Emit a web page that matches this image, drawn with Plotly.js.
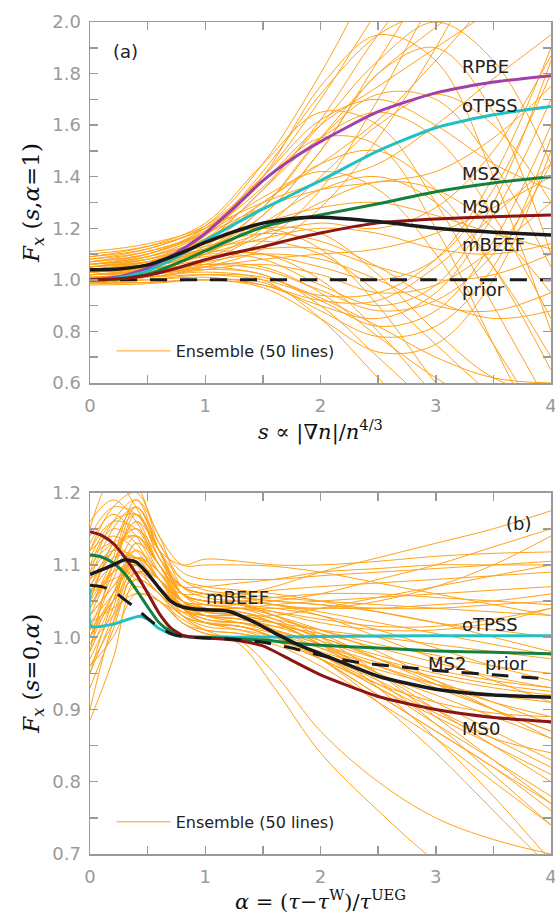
<!DOCTYPE html>
<html>
<head>
<meta charset="utf-8">
<script src="https://cdn.plot.ly/plotly-3.0.1.min.js"></script>
<style>html,body{margin:0;padding:0;background:#fff;}#chart{width:555px;height:914px;}</style>
</head>
<body>
<div id="chart"></div>
<script>
// ---------------- Panel (a): F_x(s, alpha=1) ----------------
const sGrid = [0, 0.5, 1, 1.5, 2, 2.5, 3, 3.5, 4];
const sFine = [0, 0.25, 0.5, 0.75, 1, 1.25, 1.5, 1.75, 2, 2.5, 3, 3.5, 4];
const rpbeA  = [1.0, 1.012, 1.045, 1.105, 1.180, 1.280, 1.385, 1.468, 1.536, 1.652, 1.725, 1.767, 1.792];
const otpssA = [1.0, 1.008, 1.035, 1.088, 1.152, 1.215, 1.275, 1.330, 1.385, 1.500, 1.590, 1.640, 1.672];
const ms2A   = [1.0, 1.004, 1.022, 1.063, 1.112, 1.162, 1.205, 1.232, 1.252, 1.295, 1.342, 1.376, 1.400];
const ms0A   = [1.0, 1.004, 1.018, 1.045, 1.078, 1.105, 1.129, 1.157, 1.182, 1.221, 1.236, 1.245, 1.252];
const mbeefA = [1.039, 1.042, 1.058, 1.097, 1.145, 1.187, 1.220, 1.238, 1.243, 1.226, 1.200, 1.185, 1.174];
const priorA = [1.0, 1.0, 1.0, 1.0, 1.0, 1.0, 1.0, 1.0, 1.0, 1.0, 1.0, 1.0, 1.0];

const ensA = [
  [1.02,1.04,1.10,1.25,1.50,1.85,2.20,2.5,2.7],
  [1.06,1.10,1.20,1.40,1.70,2.05,2.4,2.6,2.7],
  [1.00,1.02,1.06,1.15,1.35,1.70,2.10,2.4,2.5],
  [1.04,1.07,1.16,1.35,1.62,1.95,2.2,2.3,2.3],
  [1.08,1.12,1.21,1.45,1.80,2.2,2.5,2.5,2.4],
  [1.03,1.05,1.12,1.28,1.55,1.80,1.98,2.15,2.3],
  [0.99,1.01,1.05,1.12,1.28,1.55,1.90,2.30,2.6],
  [1.05,1.09,1.18,1.38,1.60,1.75,1.90,2.05,2.2],
  [1.02,1.05,1.13,1.30,1.45,1.62,1.85,2.1,2.3],
  [1.07,1.11,1.19,1.42,1.72,1.95,2.05,2.1,2.1],
  [1.04,1.07,1.15,1.35,1.55,1.65,1.55,1.25,0.85],
  [1.09,1.13,1.22,1.45,1.65,1.60,1.30,0.90,0.50],
  [1.01,1.03,1.08,1.20,1.40,1.60,1.72,1.60,1.30],
  [1.06,1.09,1.16,1.30,1.45,1.50,1.35,1.05,0.65],
  [1.03,1.06,1.12,1.25,1.50,1.80,1.90,1.65,1.10],
  [1.10,1.13,1.20,1.38,1.55,1.52,1.20,0.75,0.30],
  [1.00,1.02,1.07,1.18,1.30,1.38,1.35,1.20,0.95],
  [1.05,1.08,1.17,1.40,1.75,1.95,1.85,1.40,0.80],
  [1.02,1.04,1.10,1.22,1.35,1.40,1.30,1.05,0.70],
  [1.07,1.10,1.18,1.32,1.42,1.35,1.10,0.75,0.40],
  [1.03,1.05,1.11,1.28,1.55,1.72,1.70,1.45,1.05],
  [1.08,1.11,1.19,1.36,1.60,1.85,2.0,1.85,1.45],
  [1.00,1.00,1.01,0.98,0.90,0.85,0.95,1.25,1.70],
  [1.02,1.03,1.05,1.02,0.92,0.82,0.88,1.15,1.60],
  [0.99,0.99,1.00,0.97,0.85,0.72,0.75,1.00,1.50],
  [1.04,1.06,1.10,1.08,0.98,0.90,0.98,1.30,1.85],
  [1.01,1.01,1.02,1.00,0.94,0.95,1.08,1.40,1.90],
  [1.03,1.04,1.06,1.04,0.96,0.88,0.92,1.10,1.45],
  [0.985,0.99,1.00,0.99,0.88,0.78,0.82,1.05,1.55],
  [1.05,1.07,1.11,1.10,1.05,1.00,1.08,1.35,1.80],
  [1.01,1.02,1.04,1.02,0.90,0.70,0.50,0.35,0.3],
  [1.03,1.05,1.09,1.10,1.00,0.80,0.55,0.35,0.3],
  [1.00,1.01,1.03,1.00,0.85,0.62,0.40,0.3,0.3],
  [1.06,1.09,1.15,1.20,1.12,0.90,0.60,0.35,0.3],
  [1.02,1.03,1.06,1.05,0.95,0.78,0.62,0.50,0.45],
  [1.04,1.07,1.12,1.15,1.10,0.95,0.75,0.55,0.40],
  [0.99,1.00,1.02,1.01,0.93,0.82,0.70,0.62,0.60],
  [1.03,1.05,1.10,1.16,1.20,1.18,1.12,1.10,1.14],
  [1.05,1.08,1.14,1.22,1.28,1.30,1.25,1.18,1.12],
  [1.01,1.02,1.05,1.08,1.10,1.12,1.18,1.28,1.40],
  [1.02,1.04,1.08,1.12,1.12,1.05,1.00,1.02,1.10],
  [1.07,1.10,1.18,1.28,1.35,1.38,1.42,1.55,1.75],
  [1.04,1.06,1.11,1.18,1.22,1.20,1.28,1.50,1.87],
  [1.00,1.01,1.04,1.06,1.02,0.95,0.98,1.12,1.30],
  [1.06,1.08,1.13,1.18,1.15,1.05,0.92,0.85,0.88],
  [1.02,1.03,1.07,1.10,1.08,1.00,0.90,0.88,0.95],
  [1.09,1.12,1.20,1.30,1.38,1.45,1.60,1.78,1.95],
  [1.11,1.14,1.21,1.40,1.62,1.70,1.60,1.45,1.35],
  [0.98,0.985,1.00,0.98,0.92,0.92,1.05,1.25,1.45],
  [1.05,1.07,1.12,1.20,1.18,1.02,0.80,0.62,0.55]
];

// ---------------- Panel (b): F_x(s=0, alpha) ----------------
const aGrid = [0, 0.2, 0.4, 0.6, 0.8, 1.0, 1.3, 1.6, 2.0, 2.5, 3.0, 3.5, 4.0];
const aMbeef = [0, 0.1, 0.2, 0.3, 0.4, 0.5, 0.6, 0.7, 0.8, 0.9, 1.0, 1.2, 1.4, 1.6, 1.8, 2.0, 2.5, 3.0, 3.5, 4.0];
const mbeefB = [1.087, 1.093, 1.100, 1.107, 1.104, 1.088, 1.068, 1.050, 1.042, 1.039, 1.038, 1.036, 1.023, 1.006, 0.990, 0.977, 0.946, 0.928, 0.920, 0.917];
const aMs = [0, 0.1, 0.2, 0.3, 0.4, 0.5, 0.6, 0.7, 0.8, 0.9, 1.0, 1.25, 1.5, 1.75, 2.0, 2.5, 3.0, 3.5, 4.0];
const ms0B = [1.146, 1.141, 1.130, 1.111, 1.088, 1.061, 1.033, 1.013, 1.003, 1.000, 0.999, 0.996, 0.988, 0.968, 0.948, 0.918, 0.900, 0.889, 0.883];
const ms2B = [1.114, 1.111, 1.103, 1.088, 1.066, 1.042, 1.020, 1.008, 1.002, 1.000, 1.000, 0.998, 0.996, 0.992, 0.989, 0.985, 0.981, 0.979, 0.977];
const aOt = [0, 0.01, 0.2, 0.43, 0.5, 0.6, 0.75, 1.0, 2.0, 3.0, 4.0];
const otpssB = [1.068, 1.015, 1.018, 1.029, 1.025, 1.012, 1.002, 1.000, 1.001, 1.002, 1.002];
const aPrior = [0, 0.1, 0.2, 0.3, 0.4, 0.5, 0.6, 0.7, 0.8, 1.0, 1.25, 1.5, 1.75, 2.0, 2.25, 2.5, 2.75, 3.0, 3.5, 4.0];
const priorB = [1.072, 1.070, 1.064, 1.052, 1.040, 1.026, 1.014, 1.005, 1.001, 0.999, 0.997, 0.993, 0.985, 0.975, 0.967, 0.962, 0.958, 0.954, 0.948, 0.942];

const ensB = [
  [1.20,1.22,1.18,1.12,1.10,1.108,1.105,1.10,1.10,1.105,1.112,1.116,1.118],
  [1.16,1.19,1.16,1.10,1.07,1.06,1.06,1.07,1.09,1.11,1.13,1.15,1.175],
  [1.10,1.15,1.13,1.08,1.05,1.045,1.045,1.05,1.06,1.08,1.10,1.125,1.15],
  [1.05,1.12,1.14,1.09,1.05,1.04,1.035,1.02,0.99,0.95,0.90,0.85,0.80],
  [0.98,1.10,1.16,1.10,1.06,1.05,1.045,1.03,1.00,0.95,0.89,0.83,0.77],
  [0.95,1.05,1.12,1.08,1.04,1.03,1.03,1.02,1.00,0.97,0.94,0.91,0.88],
  [0.90,1.02,1.10,1.07,1.03,1.02,1.02,1.01,0.99,0.96,0.93,0.90,0.87],
  [0.885,0.97,1.08,1.06,1.02,1.01,1.005,0.995,0.97,0.93,0.88,0.83,0.78],
  [1.12,1.14,1.12,1.08,1.06,1.06,1.06,1.065,1.07,1.075,1.08,1.085,1.09],
  [1.14,1.18,1.17,1.12,1.08,1.07,1.065,1.06,1.05,1.035,1.02,1.01,1.0],
  [1.08,1.12,1.15,1.11,1.06,1.05,1.05,1.055,1.06,1.06,1.055,1.05,1.045],
  [1.03,1.10,1.18,1.12,1.05,1.03,1.025,1.01,0.985,0.95,0.91,0.87,0.83],
  [1.00,1.08,1.14,1.10,1.05,1.035,1.03,1.02,0.99,0.95,0.92,0.89,0.86],
  [1.11,1.13,1.10,1.06,1.04,1.035,1.03,1.02,1.0,0.975,0.955,0.94,0.93],
  [1.07,1.11,1.11,1.07,1.04,1.03,1.025,1.015,0.995,0.97,0.95,0.935,0.925],
  [1.02,1.06,1.10,1.08,1.045,1.03,1.025,1.02,1.01,1.0,0.99,0.98,0.97],
  [0.97,1.04,1.13,1.10,1.04,1.02,1.015,1.0,0.975,0.94,0.90,0.86,0.82],
  [0.93,1.01,1.09,1.08,1.04,1.02,1.015,1.005,0.985,0.96,0.935,0.91,0.89],
  [1.15,1.22,1.21,1.13,1.09,1.08,1.08,1.08,1.085,1.09,1.095,1.10,1.105],
  [1.09,1.16,1.19,1.12,1.06,1.05,1.05,1.045,1.035,1.02,1.005,0.99,0.975],
  [1.04,1.09,1.12,1.09,1.05,1.04,1.04,1.03,1.01,0.98,0.94,0.90,0.86],
  [1.06,1.08,1.09,1.06,1.03,1.02,1.015,1.0,0.97,0.92,0.87,0.82,0.77],
  [1.01,1.05,1.08,1.06,1.03,1.015,1.01,1.0,0.975,0.93,0.89,0.85,0.81],
  [0.99,1.03,1.07,1.05,1.02,1.005,1.0,0.99,0.96,0.91,0.86,0.80,0.74],
  [0.96,1.00,1.06,1.05,1.02,1.005,0.995,0.95,0.87,0.80,0.75,0.72,0.70],
  [1.13,1.17,1.14,1.09,1.07,1.07,1.075,1.08,1.09,1.095,1.10,1.10,1.10],
  [1.05,1.13,1.17,1.11,1.06,1.05,1.045,1.035,1.02,1.01,1.01,1.02,1.04],
  [1.08,1.10,1.08,1.05,1.035,1.03,1.03,1.03,1.04,1.055,1.07,1.085,1.10],
  [1.03,1.07,1.10,1.08,1.05,1.04,1.04,1.045,1.05,1.055,1.06,1.065,1.07],
  [0.95,1.03,1.11,1.09,1.04,1.025,1.02,1.01,0.99,0.965,0.945,0.93,0.92],
  [1.10,1.13,1.14,1.10,1.06,1.05,1.045,1.04,1.03,1.01,0.985,0.96,0.94],
  [1.12,1.16,1.15,1.10,1.07,1.06,1.055,1.05,1.045,1.04,1.04,1.045,1.05],
  [1.00,1.06,1.11,1.09,1.05,1.035,1.03,1.01,0.97,0.92,0.87,0.82,0.76],
  [0.98,1.05,1.11,1.08,1.03,1.01,0.99,0.93,0.84,0.76,0.69,0.64,0.60],
  [1.04,1.10,1.16,1.12,1.06,1.045,1.04,1.025,0.995,0.94,0.88,0.81,0.74],
  [1.06,1.12,1.15,1.10,1.06,1.05,1.045,1.03,1.005,0.97,0.935,0.90,0.87],
  [1.09,1.12,1.11,1.07,1.045,1.04,1.035,1.025,1.01,0.99,0.975,0.96,0.95],
  [1.02,1.04,1.06,1.05,1.025,1.01,1.005,0.995,0.98,0.955,0.935,0.92,0.91],
  [1.07,1.13,1.18,1.13,1.08,1.065,1.06,1.055,1.05,1.045,1.04,1.035,1.03],
  [1.01,1.09,1.17,1.12,1.06,1.04,1.035,1.02,0.99,0.93,0.86,0.78,0.69],
  [0.99,1.06,1.13,1.10,1.05,1.03,1.02,1.005,0.97,0.91,0.84,0.76,0.68],
  [1.11,1.16,1.17,1.11,1.07,1.06,1.055,1.05,1.045,1.035,1.02,1.0,0.98],
  [1.05,1.09,1.10,1.07,1.045,1.04,1.04,1.04,1.04,1.04,1.045,1.05,1.06],
  [1.12,1.18,1.20,1.14,1.10,1.10,1.10,1.098,1.09,1.075,1.06,1.045,1.03],
  [1.08,1.15,1.18,1.12,1.07,1.06,1.055,1.045,1.03,1.00,0.97,0.94,0.91],
  [1.03,1.07,1.11,1.08,1.04,1.02,1.015,1.0,0.975,0.935,0.895,0.86,0.84],
  [0.96,1.02,1.09,1.07,1.035,1.02,1.01,0.995,0.97,0.935,0.91,0.895,0.89],
  [1.06,1.10,1.11,1.08,1.05,1.045,1.04,1.035,1.025,1.015,1.015,1.025,1.04],
  [1.04,1.11,1.19,1.14,1.07,1.055,1.05,1.045,1.04,1.05,1.07,1.10,1.14],
  [1.00,1.05,1.09,1.07,1.04,1.025,1.02,1.015,1.005,0.985,0.965,0.945,0.93]
];

const ORANGE = '#FFA31A';
const traces = [];
ensA.forEach((ys, i) => traces.push({
  x: sGrid, y: ys, xaxis: 'x', yaxis: 'y', mode: 'lines', type: 'scatter',
  line: {color: ORANGE, width: 1, shape: 'spline', smoothing: 1},
  name: 'Ensemble (50 lines)', showlegend: i === 0, legend: 'legend', hoverinfo: 'skip'
}));
ensB.forEach((ys, i) => traces.push({
  x: aGrid, y: ys, xaxis: 'x2', yaxis: 'y2', mode: 'lines', type: 'scatter',
  line: {color: ORANGE, width: 1, shape: 'spline', smoothing: 1},
  name: 'Ensemble (50 lines)', showlegend: i === 0, legend: 'legend2', hoverinfo: 'skip'
}));
function named(x, y, color, w, xa, ya, dash) {
  traces.push({x: x, y: y, xaxis: xa, yaxis: ya, mode: 'lines', type: 'scatter',
    line: {color: color, width: w, shape: 'spline', smoothing: 0.6, dash: dash || 'solid'},
    showlegend: false, hoverinfo: 'skip'});
}
const PURPLE = '#A040A8', CYAN = '#22C0C4', GREEN = '#138040', DRED = '#8B1414', BLACK = '#1a1a1a';
named(sFine, priorA, BLACK, 3, 'x', 'y', '17px,13px');
named(sFine, rpbeA, PURPLE, 3, 'x', 'y');
named(sFine, otpssA, CYAN, 3, 'x', 'y');
named(sFine, ms2A, GREEN, 3, 'x', 'y');
named(sFine, ms0A, DRED, 3, 'x', 'y');
named(sFine, mbeefA, BLACK, 3.5, 'x', 'y');

named(aOt, otpssB, CYAN, 3, 'x2', 'y2');
named(aMs, ms2B, GREEN, 3, 'x2', 'y2');
named(aMs, ms0B, DRED, 3, 'x2', 'y2');
named(aPrior, priorB, BLACK, 3, 'x2', 'y2', '17px,13px');
named(aMbeef, mbeefB, BLACK, 3.5, 'x2', 'y2');

const GREY = '#9a9a9a';
const tickFont = {family: 'DejaVu Sans, sans-serif', size: 18, color: GREY};
const xTitleFont = {family: 'DejaVu Serif, serif', size: 21, color: '#111'};
const yTitleFont = {family: 'DejaVu Serif, serif', size: 23, color: '#111'};
function xax(anchor, title) {
  return {
    anchor: anchor, range: [0, 4], dtick: 1, tick0: 0, ticks: 'inside', ticklen: 8, tickwidth: 1.5,
    tickcolor: GREY, showline: true, linecolor: GREY, linewidth: 1.5, mirror: 'allticks',
    showgrid: false, zeroline: false, tickfont: tickFont, ticklabelstandoff: 6, ticklabeloverflow: 'allow',
    minor: {dtick: 0.5, ticks: 'inside', ticklen: 8, tickwidth: 1.5, tickcolor: GREY, showgrid: false},
    title: {text: title, font: xTitleFont, standoff: 8}, fixedrange: true
  };
}
function yax(anchor, domain, range, dtick, minorDt, title) {
  return {
    anchor: anchor, domain: domain, range: range, dtick: dtick, tick0: 0, ticks: 'inside', ticklen: 8,
    tickwidth: 1.5, tickcolor: GREY, showline: true, linecolor: GREY, linewidth: 1.5, mirror: 'allticks',
    showgrid: false, zeroline: false, tickfont: tickFont, tickformat: '.1f', ticklabelstandoff: 4,
    ticklabeloverflow: 'allow',
    minor: {dtick: minorDt, ticks: 'inside', ticklen: 8, tickwidth: 1.5, tickcolor: GREY, showgrid: false},
    title: {text: title, font: yTitleFont, standoff: 6}, fixedrange: true
  };
}
const labFont = {family: 'DejaVu Sans, sans-serif', size: 18, color: '#222'};
function lab(text, x, y, xr, yr, xanchor) {
  return {text: text, x: x, y: y, xref: xr, yref: yr, showarrow: false, font: labFont,
    xanchor: xanchor || 'left', yanchor: 'middle'};
}
const legFont = {family: 'DejaVu Sans, sans-serif', size: 16, color: '#222'};
const layout = {
  width: 555, height: 914,
  margin: {l: 90, r: 4, t: 22, b: 60},
  paper_bgcolor: '#fff', plot_bgcolor: '#fff',
  showlegend: true,
  xaxis: xax('y', '<i>s</i> ∝ |∇<i>n</i>|/<i>n</i><sup>4/3</sup>'),
  yaxis: yax('x', [0.5661, 1], [0.6, 2.0], 0.2, 0.1, '<i>F</i><sub><i>x</i></sub> (<i>s</i>,<i>α</i>=1)'),
  xaxis2: xax('y2', '<i>α</i> = (<i>τ</i>−<i>τ</i><sup>W</sup>)/<i>τ</i><sup>UEG</sup>'),
  yaxis2: yax('x2', [0, 0.4343], [0.7, 1.2], 0.1, 0.05, '<i>F</i><sub><i>x</i></sub> (<i>s</i>=0,<i>α</i>)'),
  legend: {x: 0.047, y: 0.6046, xanchor: 'left', yanchor: 'middle', bgcolor: 'rgba(0,0,0,0)',
    font: legFont, itemwidth: 54},
  legend2: {x: 0.047, y: 0.0386, xanchor: 'left', yanchor: 'middle', bgcolor: 'rgba(0,0,0,0)',
    font: legFont, itemwidth: 54},
  annotations: [
    lab('(a)', 0.312, 1.884, 'x', 'y', 'center'),
    lab('RPBE', 3.21, 1.827, 'x', 'y'),
    lab('oTPSS', 3.21, 1.677, 'x', 'y'),
    lab('MS2', 3.21, 1.414, 'x', 'y'),
    lab('MS0', 3.21, 1.284, 'x', 'y'),
    lab('mBEEF', 3.21, 1.136, 'x', 'y'),
    lab('prior', 3.21, 0.961, 'x', 'y'),
    lab('(b)', 3.72, 1.158, 'x2', 'y2', 'center'),
    lab('mBEEF', 0.99, 1.055, 'x2', 'y2'),
    lab('oTPSS', 3.21, 1.018, 'x2', 'y2'),
    lab('MS2', 2.915, 0.964, 'x2', 'y2'),
    lab('prior', 3.41, 0.964, 'x2', 'y2'),
    lab('MS0', 3.21, 0.874, 'x2', 'y2')
  ]
};
Plotly.newPlot('chart', traces, layout, {displayModeBar: false, staticPlot: true});
</script>
</body>
</html>
